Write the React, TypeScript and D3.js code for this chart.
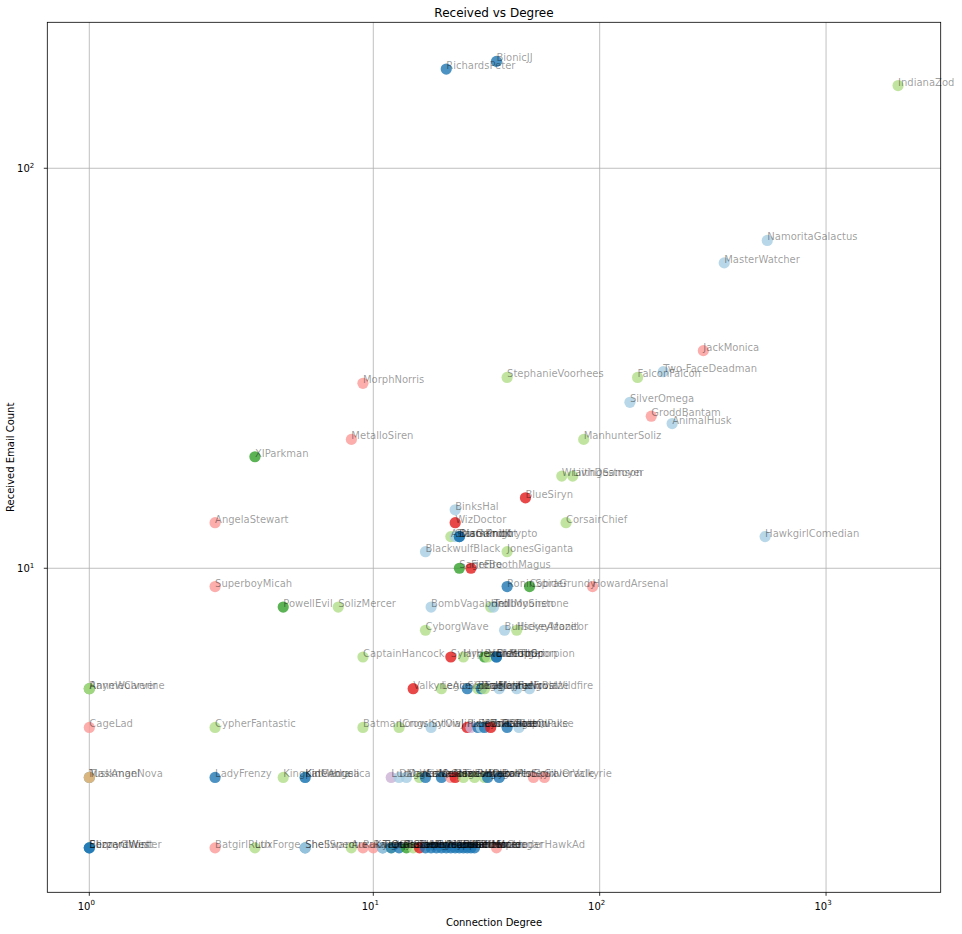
import React from "react";
import * as d3 from "d3";

// ---- Data (community index -> colour from the Paired palette) ----
// [name, degree, received, community]
const upperNodes: [string, number, number, number][] = [
  ["BionicJJ", 35, 185, 1],
  ["RichardsPeter", 21, 177, 1],
  ["IndianaZod", 2080, 161, 2],
  ["NamoritaGalactus", 550, 66, 0],
  ["MasterWatcher", 355, 58, 0],
  ["JackMonica", 287, 35, 4],
  ["Two-FaceDeadman", 191, 31, 0],
  ["FalconFalcon", 147, 30, 2],
  ["StephanieVoorhees", 39, 30, 2],
  ["MorphNorris", 9, 29, 4],
  ["SilverOmega", 136, 26, 0],
  ["GroddBantam", 169, 24, 4],
  ["AnimalHusk", 209, 23, 0],
  ["MetalloSiren", 8, 21, 4],
  ["ManhunterSoliz", 85, 21, 2],
  ["XIParkman", 3, 19, 3],
  ["WraithDestroyer", 68, 17, 2],
  ["LivingSamson", 76, 17, 2],
  ["BlueSiryn", 47, 15, 5],
  ["BinksHal", 23, 14, 0],
  ["WizDoctor", 23, 13, 5],
  ["CorsairChief", 71, 13, 2],
  ["AngelaStewart", 2, 13, 4],
  ["AtlasGambit", 22, 12, 2],
  ["StormKnight", 23, 12, 0],
  ["DiamondKrypto", 24, 12, 1],
  ["BlackProto", 24, 12, 1],
  ["HawkgirlComedian", 538, 12, 0],
  ["BlackwulfBlack", 17, 11, 0],
  ["JonesGiganta", 39, 11, 2],
  ["SageFire", 24, 10, 3],
  ["FireBoothMagus", 27, 10, 5],
  ["SuperboyMicah", 2, 9, 4],
  ["RoninSpider", 39, 9, 1],
  ["CobraGrundy", 49, 9, 3],
  ["HowardArsenal", 93, 9, 4],
  ["PowellEvil", 4, 8, 3],
  ["SolizMercer", 7, 8, 2],
  ["BombVagabond", 18, 8, 0],
  ["HellboySiren", 33, 8, 2],
  ["TrollMoonstone", 34, 8, 0],
  ["CyborgWave", 17, 7, 2],
  ["BullseyeAzazel", 38, 7, 0],
  ["HickeyMonitor", 43, 7, 2],
];

// [name, degree, community] for the crowded low rows
const received6: [string, number, number][] = [
  ["CaptainHancock", 9, 2],
  ["SylarHex", 22, 5],
  ["HyperionMoth", 25, 2],
  ["BronzeTiger", 31, 3],
  ["HulkBishop", 32, 2],
  ["ElectroScorpion", 35, 1],
  ["BishopOrion", 35, 1],
];

const received5: [string, number, number][] = [
  ["RaymeCarver", 1, 3],
  ["AnneWolverine", 1, 2],
  ["ValkyrieAce", 15, 5],
  ["LegionSiege", 20, 2],
  ["SignalMaster", 26, 1],
  ["BirdFury", 29, 2],
  ["DragonFang", 30, 1],
  ["EagleJinx", 31, 2],
  ["MirageFrost", 36, 0],
  ["HelixBlaze", 43, 0],
  ["NovaWildfire", 49, 0],
];

const received4: [string, number, number][] = [
  ["CageLad", 1, 4],
  ["CypherFantastic", 2, 2],
  ["BatmanCrow", 9, 2],
  ["LongshotOwl", 13, 2],
  ["SylviaJinx", 18, 0],
  ["PixieBolt", 26, 5],
  ["LeechTitan", 27, 8],
  ["EchoRanger", 29, 1],
  ["MysticGale", 30, 0],
  ["BaneShadow", 31, 1],
  ["ToxinRider", 33, 5],
  ["GhostQuake", 39, 1],
  ["RapidPulse", 44, 0],
];

const received3: [string, number, number][] = [
  ["MaskmanNova", 1, 1],
  ["TuskAngel", 1, 6],
  ["LadyFrenzy", 2, 1],
  ["KingpinCobra", 4, 2],
  ["KateAngelica", 5, 0],
  ["KidMedusa", 5, 1],
  ["LucDarkstar", 12, 8],
  ["DaggerWasp", 13, 0],
  ["MantisVenom", 14, 0],
  ["WarlockHex", 16, 2],
  ["CableNexus", 17, 1],
  ["QuasarRex", 20, 1],
  ["CrimsonOrb", 22, 4],
  ["RageVortex", 23, 5],
  ["TitanBloom", 25, 2],
  ["ForgeRaven", 28, 2],
  ["HydraMist", 31, 2],
  ["MagnetoSky", 32, 1],
  ["JinxPhoenix", 36, 1],
  ["SpiralOracle", 51, 4],
  ["SilverValkyrie", 57, 4],
];

const received2: [string, number, number][] = [
  ["BlizzardWinter", 1, 0],
  ["SerpentWest", 1, 1],
  ["EbonyGhost", 1, 1],
  ["BatgirlRuth", 2, 4],
  ["LuxForge", 3, 2],
  ["SheSwarm", 5, 1],
  ["ShellSpectre", 5, 0],
  ["AuraKnight", 8, 2],
  ["RubyLotus", 9, 4],
  ["RavenPierce", 10, 4],
  ["TempestVolt", 11, 1],
  ["TideRunner", 11, 0],
  ["OnyxSaber", 12, 2],
  ["QuillStorm", 12, 1],
  ["GlacierFist", 13, 1],
  ["BoltHarrier", 14, 3],
  ["ScarletMoth", 15, 2],
  ["ZephyrCrane", 16, 5],
  ["IronVesper", 17, 1],
  ["NightJackal", 18, 1],
  ["CometWarden", 19, 1],
  ["VoidSparrow", 20, 1],
  ["PrismGolem", 21, 1],
  ["SableTerror", 22, 1],
  ["AstroWhisper", 23, 1],
  ["EmberMonk", 24, 1],
  ["FrostLancer", 25, 1],
  ["GammaCougar", 26, 1],
  ["OrbitShade", 27, 1],
  ["RiftHunter", 28, 1],
  ["MarauderHawkAd", 35, 4],
];

const palette = [
  "#a6cee3", "#1f78b4", "#b2df8a", "#33a02c", "#fb9a99",
  "#e31a1c", "#fdbf6f", "#ff7f00", "#cab2d6",
];

const xTickValues = [1, 10, 100, 1000];
const yTickValues = [10, 100];

// ---- matplotlib-style symlog transform (linthresh=2, linscale=1) ----
const LINTHRESH = 2;
const LINSCALE_ADJ = 1 / (1 - 1 / 10);
function symlog(v: number): number {
  const a = Math.abs(v);
  if (a <= LINTHRESH) return v * LINSCALE_ADJ;
  return Math.sign(v) * LINTHRESH * (LINSCALE_ADJ + Math.log10(a / LINTHRESH));
}

type Node = { name: string; deg: number; rec: number; c: number };

const nodes: Node[] = [
  ...upperNodes.map(([name, deg, rec, c]) => ({ name, deg, rec, c })),
  ...received6.map(([name, deg, c]) => ({ name, deg, rec: 6, c })),
  ...received5.map(([name, deg, c]) => ({ name, deg, rec: 5, c })),
  ...received4.map(([name, deg, c]) => ({ name, deg, rec: 4, c })),
  ...received3.map(([name, deg, c]) => ({ name, deg, rec: 3, c })),
  ...received2.map(([name, deg, c]) => ({ name, deg, rec: 2, c })),
];

const W = 962;
const H = 934;
const left = 47.3;
const right = 940.7;
const top = 22.3;
const bottom = 892.3;

const xScale = d3.scaleLinear().domain([0.74, 8.633]).range([left, right]);
const yScale = d3.scaleLinear().domain([2.0, 6.35]).range([bottom, top]);
const X = (v: number) => xScale(symlog(v));
const Y = (v: number) => yScale(symlog(v));

const FONT = "DejaVu Sans, sans-serif";

function Pow10({ exp, x, y, anchor }: { exp: number; x: number; y: number; anchor: string }) {
  return (
    <text x={x} y={y} textAnchor={anchor as any} fontSize={10} fontFamily={FONT} fill="#000">
      10
      <tspan fontSize={7} dy={-4.5}>{exp}</tspan>
    </text>
  );
}

export default function App() {
  return (
    <svg
      width={W}
      height={H}
      style={{ position: "absolute", left: 0, top: 0, background: "#fff" }}
    >
      <rect x={0} y={0} width={W} height={H} fill="#fff" />
      {/* grid */}
      {xTickValues.map((t) => (
        <line key={"gx" + t} x1={X(t)} x2={X(t)} y1={top} y2={bottom} stroke="#b0b0b0" strokeWidth={0.8} />
      ))}
      {yTickValues.map((t) => (
        <line key={"gy" + t} x1={left} x2={right} y1={Y(t)} y2={Y(t)} stroke="#b0b0b0" strokeWidth={0.8} />
      ))}
      {/* points */}
      {nodes.map((n, i) => (
        <circle key={"p" + i} cx={X(n.deg)} cy={Y(n.rec)} r={5.6} fill={palette[n.c]} fillOpacity={0.8} />
      ))}
      {/* labels */}
      {nodes.map((n, i) => (
        <text
          key={"l" + i}
          x={X(n.deg)}
          y={Y(n.rec)}
          fontSize={10}
          fontFamily={FONT}
          fill="#000"
          fillOpacity={0.4}
        >
          {n.name}
        </text>
      ))}
      {/* spines */}
      <rect x={left} y={top} width={right - left} height={bottom - top} fill="none" stroke="#000" strokeWidth={0.8} />
      {/* ticks */}
      {xTickValues.map((t) => (
        <g key={"tx" + t}>
          <line x1={X(t)} x2={X(t)} y1={bottom} y2={bottom + 3.5} stroke="#000" strokeWidth={0.8} />
          <Pow10 exp={Math.round(Math.log10(t))} x={X(t) - 3} y={bottom + 17.5} anchor="middle" />
        </g>
      ))}
      {yTickValues.map((t) => (
        <g key={"ty" + t}>
          <line x1={left - 3.5} x2={left} y1={Y(t)} y2={Y(t)} stroke="#000" strokeWidth={0.8} />
          <Pow10 exp={Math.round(Math.log10(t))} x={left - 13} y={Y(t) + 4} anchor="end" />
        </g>
      ))}
      {/* titles */}
      <text x={(left + right) / 2} y={17} textAnchor="middle" fontSize={12} fontFamily={FONT} fill="#000">
        Received vs Degree
      </text>
      <text x={(left + right) / 2} y={926} textAnchor="middle" fontSize={10} fontFamily={FONT} fill="#000">
        Connection Degree
      </text>
      <text
        transform={`translate(14, ${(top + bottom) / 2}) rotate(-90)`}
        textAnchor="middle"
        fontSize={10}
        fontFamily={FONT}
        fill="#000"
      >
        Received Email Count
      </text>
    </svg>
  );
}
